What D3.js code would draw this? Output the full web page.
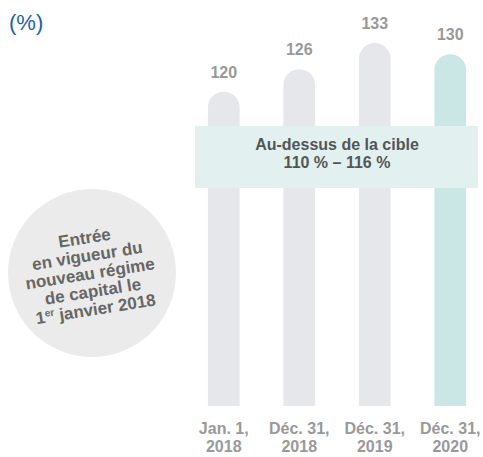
<!DOCTYPE html>
<html>
<head>
<meta charset="utf-8">
<script src="https://cdn.jsdelivr.net/npm/d3@7"></script>
<style>
  body { margin: 0; background: #fff; }
  text { font-family: "Liberation Sans", Arial, sans-serif; }
</style>
</head>
<body>
<script>
const dates = [["Jan. 1,", "2018"], ["Déc. 31,", "2018"], ["Déc. 31,", "2019"], ["Déc. 31,", "2020"]];
const values = [120, 126, 133, 130];
const bandLines = ["Au-dessus de la cible", "110 % – 116 %"];
const noteLines = ["Entrée", "en vigueur du", "nouveau régime", "de capital le", "janvier 2018"];

let width = 483;
let height = 457;

const svg = d3.select('body')
    .append('svg')
    .attr('width', width)
    .attr('height', height);

let x = d3.scaleBand()
    .domain(d3.range(values.length))
    .range([186, 488])
    .paddingInner(0.58)
    .paddingOuter(0.29);

let y = d3.scaleLinear()
    .domain([36, 133])
    .range([406, 43]);

// unit label
svg.append('text')
    .attr('x', 9)
    .attr('y', 30)
    .attr('font-size', 22)
    .attr('fill', '#1f5fa8')
    .text('(%)');

// note circle
let note = svg.append('g')
    .attr('transform', 'translate(92,273)');

note.append('circle')
    .attr('r', 84)
    .attr('fill', '#ebebeb');

let noteText = note.append('text')
    .attr('transform', 'rotate(-9)')
    .attr('text-anchor', 'middle')
    .attr('font-size', 17)
    .attr('font-weight', 'bold')
    .attr('fill', '#666');

noteLines.forEach((l, i) => {
    let t = noteText.append('tspan')
        .attr('x', -2)
        .attr('y', -30 + i * 18);
    if (i === noteLines.length - 1) {
        t.text('1');
        t.append('tspan').attr('font-size', 10).attr('dy', -6).text('er');
        t.append('tspan').attr('dy', 6).text(' ' + l);
    } else {
        t.text(l);
    }
});

// bars with rounded top
function barPath(i) {
    let bw = x.bandwidth();
    let r = bw / 2;
    let x0 = x(i);
    let top = y(values[i]);
    let bottom = y.range()[0];
    return `M${x0},${bottom}V${top + r}A${r},${r} 0 0 1 ${x0 + bw},${top + r}V${bottom}Z`;
}

svg.selectAll('path.bar')
    .data(values)
    .enter()
    .append('path')
    .attr('class', 'bar')
    .attr('d', (d, i) => barPath(i))
    .attr('fill', (d, i) => i === values.length - 1 ? '#cae6e5' : '#e6e7eb');

svg.selectAll('text.value')
    .data(values)
    .enter()
    .append('text')
    .attr('class', 'value')
    .attr('x', (d, i) => x(i) + x.bandwidth() / 2)
    .attr('y', d => y(d) - 14)
    .attr('text-anchor', 'middle')
    .attr('font-size', 16)
    .attr('font-weight', 'bold')
    .attr('fill', '#999')
    .text(d => d);

// target band
svg.append('rect')
    .attr('x', 195)
    .attr('y', 126)
    .attr('width', 283)
    .attr('height', 62)
    .attr('fill', '#e2f1f0');

svg.selectAll('text.band')
    .data(bandLines)
    .enter()
    .append('text')
    .attr('class', 'band')
    .attr('x', 337)
    .attr('y', (d, i) => 150 + i * 18)
    .attr('text-anchor', 'middle')
    .attr('font-size', 16)
    .attr('font-weight', 'bold')
    .attr('fill', '#555')
    .text(d => d);

// x labels
let xl = svg.selectAll('text.xlab')
    .data(dates)
    .enter()
    .append('text')
    .attr('class', 'xlab')
    .attr('text-anchor', 'middle')
    .attr('font-size', 16)
    .attr('font-weight', 'bold')
    .attr('fill', '#999');

xl.each(function(d, i) {
    let cx = x(i) + x.bandwidth() / 2;
    d.forEach((l, j) => {
        d3.select(this).append('tspan')
            .attr('x', cx)
            .attr('y', 434 + j * 18)
            .text(l);
    });
});
</script>
</body>
</html>
